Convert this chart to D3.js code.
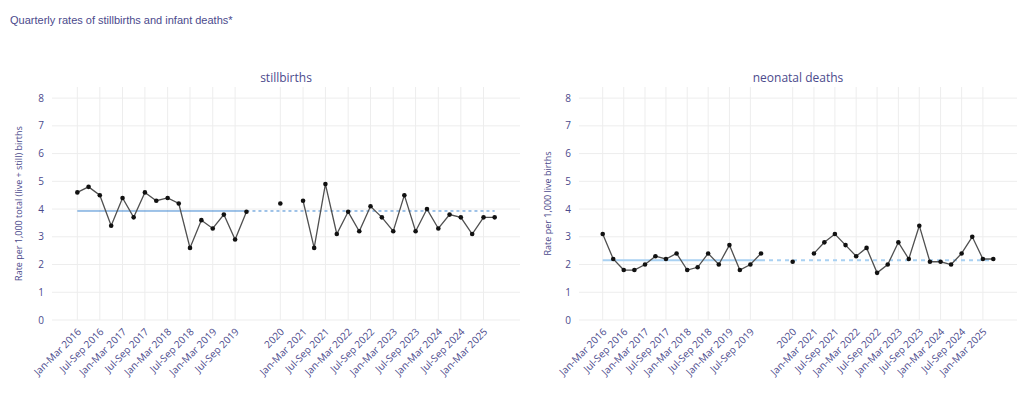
<!DOCTYPE html>
<html>
<head>
<meta charset="utf-8">
<script src="https://cdn.jsdelivr.net/npm/d3@7"></script>
<style>
  body { margin: 0; background: #fff; }
  svg { display: block; }
</style>
</head>
<body>
<svg width="1024" height="393"></svg>
<script>
// period start dates (2020 is an annual figure, plotted mid-year)
let periodDates = [
  "2016-01-01","2016-04-01","2016-07-01","2016-10-01",
  "2017-01-01","2017-04-01","2017-07-01","2017-10-01",
  "2018-01-01","2018-04-01","2018-07-01","2018-10-01",
  "2019-01-01","2019-04-01","2019-07-01","2019-10-01",
  "2020-07-01",
  "2021-01-01","2021-04-01","2021-07-01","2021-10-01",
  "2022-01-01","2022-04-01","2022-07-01","2022-10-01",
  "2023-01-01","2023-04-01","2023-07-01","2023-10-01",
  "2024-01-01","2024-04-01","2024-07-01","2024-10-01",
  "2025-01-01","2025-04-01"
];
let stillbirths = [
  4.6, 4.8, 4.5, 3.4, 4.4, 3.7, 4.6, 4.3, 4.4, 4.2, 2.6, 3.6, 3.3, 3.8, 2.9, 3.9,
  4.2,
  4.3, 2.6, 4.9, 3.1, 3.9, 3.2, 4.1, 3.7, 3.2, 4.5, 3.2, 4.0, 3.3, 3.8, 3.7, 3.1, 3.7, 3.7
];
let neonatal = [
  3.1, 2.2, 1.8, 1.8, 2.0, 2.3, 2.2, 2.4, 1.8, 1.9, 2.4, 2.0, 2.7, 1.8, 2.0, 2.4,
  2.1,
  2.4, 2.8, 3.1, 2.7, 2.3, 2.6, 1.7, 2.0, 2.8, 2.2, 3.4, 2.1, 2.1, 2.0, 2.4, 3.0, 2.2, 2.2
];
let stillMedian = 3.93;
let neonatalMedian = 2.15;
let baselineEnd = "2019-10-01"; // median is solid up to here, dashed after

let tickDates = [
  "2016-01-01","2016-07-01","2017-01-01","2017-07-01","2018-01-01","2018-07-01",
  "2019-01-01","2019-07-01","2020-07-01","2021-01-01","2021-07-01","2022-01-01",
  "2022-07-01","2023-01-01","2023-07-01","2024-01-01","2024-07-01","2025-01-01"
];
let tickLabels = [
  "Jan-Mar 2016","Jul-Sep 2016","Jan-Mar 2017","Jul-Sep 2017","Jan-Mar 2018","Jul-Sep 2018",
  "Jan-Mar 2019","Jul-Sep 2019","2020","Jan-Mar 2021","Jul-Sep 2021","Jan-Mar 2022",
  "Jul-Sep 2022","Jan-Mar 2023","Jul-Sep 2023","Jan-Mar 2024","Jul-Sep 2024","Jan-Mar 2025"
];
let yTicks = [0, 1, 2, 3, 4, 5, 6, 7, 8];

let textCol = "#4b4a8c";
let font = "'Open Sans', Verdana, sans-serif";
let parseDate = d3.timeParse("%Y-%m-%d");
let dates = periodDates.map(parseDate);

var svg = d3.select("svg");

svg.append("text")
   .attr("x", 10).attr("y", 24)
   .attr("fill", textCol)
   .style("font-family", "'Liberation Sans', Arial, sans-serif")
   .style("font-size", "11px")
   .text("Quarterly rates of stillbirths and infant deaths*");

function panel(opts) {
    let top = 87, bottom = 320;
    let pad = 205 * 24 * 3600 * 1000; // ~2.25 quarters each side
    let x = d3.scaleTime()
              .domain([new Date(dates[0].getTime() - pad), new Date(dates[dates.length - 1].getTime() + pad)])
              .range([opts.left, opts.right]);
    let y = d3.scaleLinear().domain([0, 8.4]).range([bottom, top]);

    let g = svg.append("g");

    // grid
    g.selectAll("line.hgrid").data(yTicks).enter().append("line")
     .attr("x1", opts.left).attr("x2", opts.right)
     .attr("y1", d => y(d)).attr("y2", d => y(d))
     .attr("stroke", "#ededed").attr("stroke-width", 1);
    g.selectAll("line.vgrid").data(tickDates.map(parseDate)).enter().append("line")
     .attr("x1", d => x(d)).attr("x2", d => x(d))
     .attr("y1", top).attr("y2", bottom)
     .attr("stroke", "#ededed").attr("stroke-width", 1);

    // y tick labels
    g.selectAll("text.ytick").data(yTicks).enter().append("text")
     .attr("x", opts.left - 8).attr("y", d => y(d)).attr("dy", "0.35em")
     .attr("text-anchor", "end").attr("fill", textCol)
     .style("font-family", font).style("font-size", "10px")
     .text(d => d);

    // x tick labels
    g.selectAll("text.xtick").data(tickDates).enter().append("text")
     .attr("transform", d => "translate(" + (x(parseDate(d)) + 2) + "," + (bottom + 10) + ") rotate(-45)")
     .attr("dy", "0.35em")
     .attr("text-anchor", "end").attr("fill", textCol)
     .style("font-family", font).style("font-size", "10px")
     .text((d, i) => tickLabels[i]);

    // y axis title
    g.append("text")
     .attr("transform", "translate(" + opts.titleX + "," + ((top + bottom) / 2) + ") rotate(-90)")
     .attr("text-anchor", "middle").attr("fill", textCol)
     .style("font-family", font).style("font-size", "9px")
     .text(opts.yTitle);

    // panel title
    g.append("text")
     .attr("x", (opts.left + opts.right) / 2).attr("y", 82)
     .attr("text-anchor", "middle").attr("fill", textCol)
     .style("font-family", font).style("font-size", "12px")
     .text(opts.title);

    // median: solid over baseline, dashed afterwards
    let bEnd = parseDate(baselineEnd);
    g.append("line")
     .attr("x1", x(dates[0])).attr("x2", x(bEnd))
     .attr("y1", y(opts.median)).attr("y2", y(opts.median))
     .attr("stroke", opts.medCol).attr("stroke-width", opts.medW);
    g.append("line")
     .attr("x1", x(bEnd)).attr("x2", x(dates[dates.length - 1]))
     .attr("y1", y(opts.median)).attr("y2", y(opts.median))
     .attr("stroke", opts.medCol).attr("stroke-width", opts.medW)
     .attr("stroke-dasharray", opts.dash);

    // data line, broken where periods are not consecutive quarters
    let pts = dates.map((d, i) => ({date: d, v: opts.values[i]}));
    let segs = [[pts[0]]];
    for (let i = 1; i < pts.length; i++) {
        if (pts[i].date - pts[i - 1].date > 100 * 24 * 3600 * 1000) segs.push([]);
        segs[segs.length - 1].push(pts[i]);
    }
    let line = d3.line().x(d => x(d.date)).y(d => y(d.v));
    g.selectAll("path.series").data(segs).enter().append("path")
     .attr("d", line)
     .attr("fill", "none").attr("stroke", "#505050").attr("stroke-width", 1.3);

    g.selectAll("circle").data(pts).enter().append("circle")
     .attr("cx", d => x(d.date)).attr("cy", d => y(d.v))
     .attr("r", 2.3).attr("fill", "#111");
}

panel({left: 52, right: 520, values: stillbirths, median: stillMedian,
       medCol: "#3f86d0", medW: 1, dash: "3,3", titleX: 22,
       title: "stillbirths", yTitle: "Rate per 1,000 total (live + still) births"});
panel({left: 579, right: 1017, values: neonatal, median: neonatalMedian,
       medCol: "#a9d1f2", medW: 2, dash: "4,4", titleX: 551,
       title: "neonatal deaths", yTitle: "Rate per 1,000 live births"});
</script>
</body>
</html>
